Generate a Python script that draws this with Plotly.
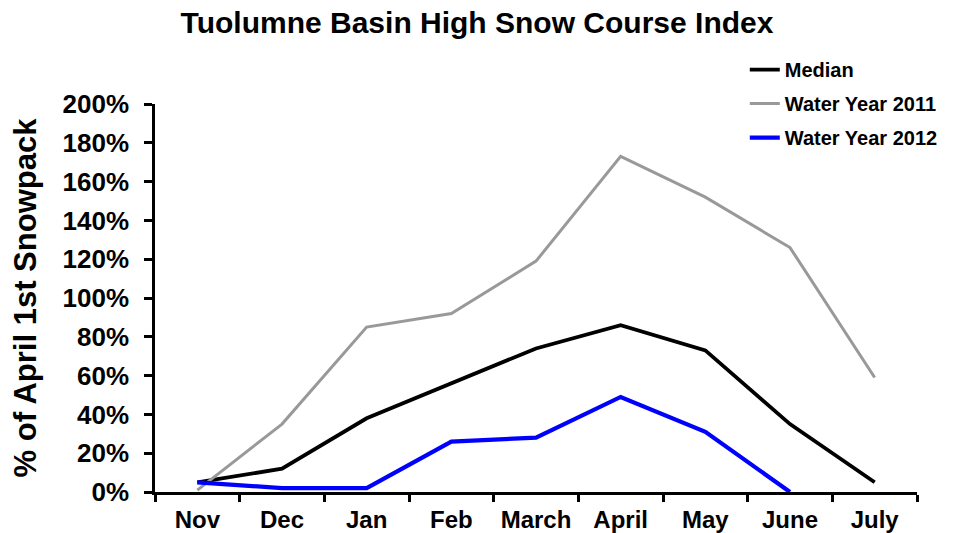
import plotly.graph_objects as go

months = ["Nov", "Dec", "Jan", "Feb", "March", "April", "May", "June", "July"]
median = [5, 12, 38, 56, 74, 86, 73, 35, 5]
wy2011 = [1, 35, 85, 92, 119, 173, 152, 126, 59]
wy2012 = [5, 2, 2, 26, 28, 49, 31, 0, None]
y_ticks = list(range(0, 201, 20))
y_labels = [f"{v}%" for v in y_ticks]

FONT = "Arial, 'Liberation Sans', Helvetica, sans-serif"

fig = go.Figure()
series = [
    ("Median", median, "#000000", 3.8),
    ("Water Year 2011", wy2011, "#999999", 3),
    ("Water Year 2012", wy2012, "#0000ff", 4.2),
]
for name, vals, color, width in series:
    fig.add_trace(go.Scatter(
        x=months, y=vals, name=name, mode="lines",
        line=dict(color=color, width=width),
        legendgroup=name, connectgaps=False,
    ))

fig.update_layout(
    width=954, height=533,
    margin=dict(l=155, r=36, t=104, b=41),
    paper_bgcolor="white", plot_bgcolor="white",
    font=dict(family=FONT, color="black", weight="bold"),
    title=dict(
        text="Tuolumne Basin High Snow Course Index",
        x=0.5, xref="container", xanchor="center",
        y=1 - 22 / 533, yref="container", yanchor="middle",
        font=dict(size=30, family=FONT, weight="bold", color="black"),
    ),
    legend=dict(
        x=0.773, y=1.139, xanchor="left", yanchor="top",
        font=dict(size=20, family=FONT, weight="bold", color="black"),
        bgcolor="rgba(0,0,0,0)", tracegroupgap=5,
        itemwidth=30,
    ),
    showlegend=True,
)

fig.update_xaxes(
    type="category", categoryorder="array", categoryarray=months,
    range=[-0.5, len(months) - 0.5], automargin=False,
    tickson="boundaries", ticks="outside", ticklen=7, tickwidth=2.5, tickcolor="black",
    showline=True, linecolor="black", linewidth=2.5,
    showgrid=False, zeroline=False, ticklabelstandoff=4,
    tickfont=dict(size=24, family=FONT, weight="bold", color="black"),
)
fig.update_yaxes(
    range=[0, 200], tickvals=y_ticks, ticktext=y_labels, automargin=False,
    ticks="outside", ticklen=8, tickwidth=2.5, tickcolor="black",
    showline=True, linecolor="black", linewidth=2.5,
    showgrid=False, zeroline=False, ticklabelstandoff=10,
    tickfont=dict(size=26, family=FONT, weight="bold", color="black"),
    title=dict(text="% of April 1st Snowpack", standoff=17,
               font=dict(size=31, family=FONT, weight="bold", color="black")),
)

fig.write_html("out.html")
